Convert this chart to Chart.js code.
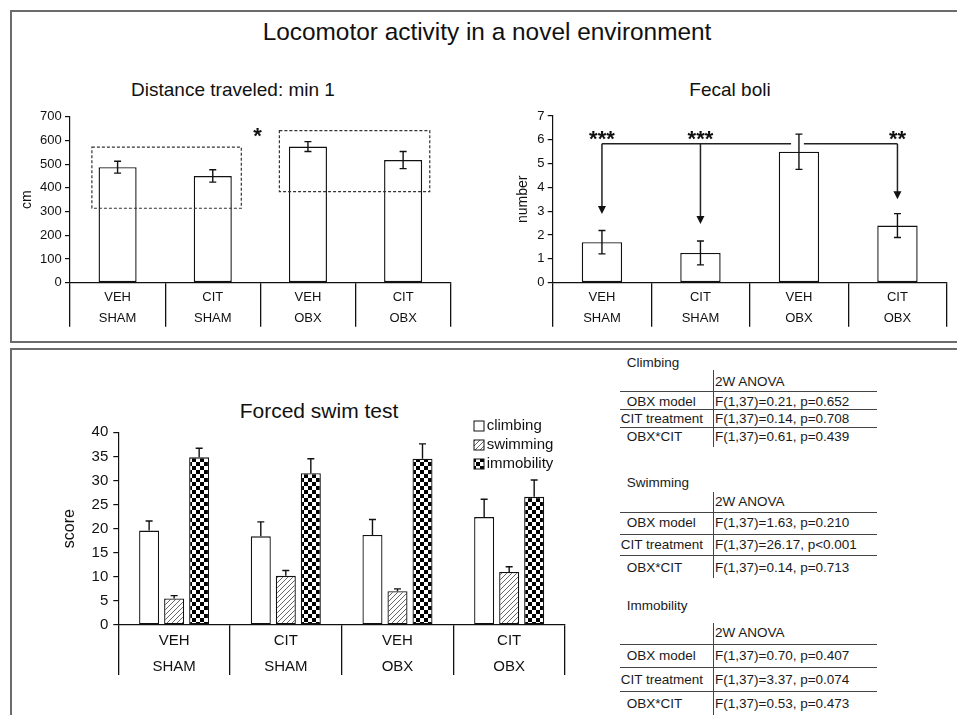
<!DOCTYPE html>
<html>
<head>
<meta charset="utf-8">
<script src="https://cdn.jsdelivr.net/npm/chart.js@4.4.0/dist/chart.umd.min.js"></script>
<style>
  body { margin: 0; background: #fff; font-family: "Liberation Sans", Arial, sans-serif; color: #111; }
  #page { position: relative; width: 957px; height: 715px; overflow: hidden; background: #fff; }
  .frame { position: absolute; border: 2px solid #6b6b6b; border-right: none; }
  .lbl { position: absolute; transform: translate(-50%, -50%); white-space: nowrap; line-height: 1; }
  .txt { position: absolute; transform: translateY(-50%); white-space: nowrap; line-height: 1; font-size: 13.5px; color: #1a1a1a; }
  .hl { position: absolute; height: 0; border-top: 1.5px solid #444; }
  .vl { position: absolute; width: 0; border-left: 1.5px solid #444; }
  canvas { position: absolute; }
</style>
</head>
<body>
<div id="page">
  <div class="frame" style="left:10px; top:10px; width:960px; height:328.7px;"></div>
  <div class="frame" style="left:10px; top:348px; width:960px; height:400px; border-bottom:none;"></div>

  <div class="lbl" style="left:487px; top:32px; font-size:24.4px;">Locomotor activity in a novel environment</div>
  <div class="lbl" style="left:233px; top:89px; font-size:19px;">Distance traveled: min 1</div>
  <div class="lbl" style="left:730px; top:89px; font-size:19px;">Fecal boli</div>
  <div class="lbl" style="left:319px; top:410px; font-size:21px;">Forced swim test</div>

  <canvas id="distChart" width="448" height="236" style="left:12px; top:100px;"></canvas>
  <canvas id="fecalChart" width="467" height="236" style="left:490px; top:100px;"></canvas>
  <canvas id="swimChart" width="535" height="275" style="left:40px; top:410px;"></canvas>
</div>

<script>
// data
const categories = [['VEH', 'SHAM'], ['CIT', 'SHAM'], ['VEH', 'OBX'], ['CIT', 'OBX']];

const distanceMean = [487, 450, 574, 517];
const distanceSem = [25, 26, 21, 36];
const distanceTicks = [0, 100, 200, 300, 400, 500, 600, 700];

const fecalMean = [1.7, 1.25, 5.5, 2.4];
const fecalSem = [0.49, 0.5, 0.74, 0.5];
const fecalTicks = [0, 1, 2, 3, 4, 5, 6, 7];

const swimSeries = ['climbing', 'swimming', 'immobility'];
const climbingMean = [19.6, 18.4, 18.7, 22.4];
const climbingSem = [2.0, 3.0, 3.2, 3.7];
const swimmingMean = [5.5, 10.2, 7.0, 11.0];
const swimmingSem = [0.6, 1.1, 0.5, 1.1];
const immobilityMean = [34.8, 31.5, 34.5, 26.6];
const immobilitySem = [1.9, 3.0, 3.1, 3.5];
const swimTicks = [0, 5, 10, 15, 20, 25, 30, 35, 40];

const anovaRows = ['OBX model', 'CIT treatment', 'OBX*CIT'];
const climbingStats = ['F(1,37)=0.21, p=0.652', 'F(1,37)=0.14, p=0.708', 'F(1,37)=0.61, p=0.439'];
const swimmingStats = ['F(1,37)=1.63, p=0.210', 'F(1,37)=26.17, p<0.001', 'F(1,37)=0.14, p=0.713'];
const immobilityStats = ['F(1,37)=0.70, p=0.407', 'F(1,37)=3.37, p=0.074', 'F(1,37)=0.53, p=0.473'];

Chart.defaults.font.family = '"Liberation Sans", Arial, sans-serif';
Chart.defaults.color = '#111';
Chart.defaults.animation = false;

// fill patterns
function hatchPattern() {
  const c = document.createElement('canvas');
  c.width = 5; c.height = 5;
  const g = c.getContext('2d');
  g.fillStyle = '#fff'; g.fillRect(0, 0, 5, 5);
  g.strokeStyle = '#666'; g.lineWidth = 1;
  g.beginPath();
  g.moveTo(0, 5); g.lineTo(5, 0);
  g.moveTo(-1, 1); g.lineTo(1, -1);
  g.moveTo(4, 6); g.lineTo(6, 4);
  g.stroke();
  return g.createPattern(c, 'repeat');
}
function checkerPattern() {
  const c = document.createElement('canvas');
  c.width = 8; c.height = 8;
  const g = c.getContext('2d');
  g.fillStyle = '#fff'; g.fillRect(0, 0, 8, 8);
  g.fillStyle = '#000';
  g.fillRect(0, 0, 4, 4); g.fillRect(4, 4, 4, 4);
  return g.createPattern(c, 'repeat');
}

function yScale(ticks, title, width, titlePad, fontSize, tickPad) {
  return {
    min: ticks[0],
    max: ticks[ticks.length - 1],
    afterBuildTicks: s => { s.ticks = ticks.map(v => ({ value: v })); },
    afterFit: s => { s.width = width; },
    grid: { drawOnChartArea: false, color: '#111', tickLength: 5, lineWidth: 1.2 },
    border: { color: '#111', width: 1.2 },
    ticks: { font: { size: fontSize }, padding: tickPad, color: '#111' },
    title: { display: true, text: title, color: '#111', font: { size: fontSize + 1 }, padding: { top: titlePad, bottom: 0 } }
  };
}

function xScale(height, tickLen, pad, fontSize, lineHeight) {
  return {
    afterFit: s => { s.height = height; },
    grid: { offset: true, drawOnChartArea: false, color: '#111', tickLength: tickLen, lineWidth: 1.3 },
    border: { color: '#111', width: 1.3 },
    ticks: { font: { size: fontSize, lineHeight: lineHeight }, padding: pad, autoSkip: false, maxRotation: 0, color: '#111' }
  };
}

const errorBars = {
  id: 'errorBars',
  afterDatasetsDraw(chart, args, opts) {
    const ctx = chart.ctx;
    const y = chart.scales.y;
    chart.data.datasets.forEach((ds, i) => {
      chart.getDatasetMeta(i).data.forEach((bar, j) => {
        const v = ds.data[j], e = ds.errors[j];
        const top = y.getPixelForValue(v + e);
        const bottom = opts.upperOnly ? bar.y : y.getPixelForValue(v - e);
        ctx.save();
        ctx.strokeStyle = '#111';
        ctx.lineWidth = 1.4;
        ctx.beginPath();
        ctx.moveTo(bar.x, top); ctx.lineTo(bar.x, bottom);
        ctx.moveTo(bar.x - 3.5, top); ctx.lineTo(bar.x + 3.5, top);
        if (!opts.upperOnly) { ctx.moveTo(bar.x - 3.5, bottom); ctx.lineTo(bar.x + 3.5, bottom); }
        ctx.stroke();
        ctx.restore();
      });
    });
  }
};

// dashed group boxes and the star between them
const distanceMarks = {
  id: 'distanceMarks',
  afterDatasetsDraw(chart) {
    const { ctx, scales: { x, y } } = chart;
    ctx.save();
    ctx.strokeStyle = '#333';
    ctx.lineWidth = 1.2;
    ctx.setLineDash([3, 2]);
    [[-0.27, 1.30, 314, 572], [1.70, 3.28, 384, 641]].forEach(([a, b, lo, hi]) => {
      const x0 = x.getPixelForValue(a), x1 = x.getPixelForValue(b);
      const y0 = y.getPixelForValue(hi), y1 = y.getPixelForValue(lo);
      ctx.strokeRect(x0, y0, x1 - x0, y1 - y0);
    });
    ctx.setLineDash([]);
    ctx.fillStyle = '#111';
    ctx.font = 'bold 22px "Liberation Sans", Arial, sans-serif';
    ctx.textAlign = 'center';
    ctx.textBaseline = 'alphabetic';
    ctx.fillText('*', x.getPixelForValue(1.47), y.getPixelForValue(644) + 12.8);
    ctx.restore();
  }
};

// bracket with arrows and significance stars
const fecalMarks = {
  id: 'fecalMarks',
  afterDatasetsDraw(chart) {
    const { ctx, scales: { x, y } } = chart;
    const by = y.getPixelForValue(5.83);
    ctx.save();
    ctx.strokeStyle = '#222';
    ctx.fillStyle = '#111';
    ctx.lineWidth = 1.5;
    ctx.beginPath();
    ctx.moveTo(x.getPixelForValue(0), by); ctx.lineTo(x.getPixelForValue(1.92), by);
    ctx.moveTo(x.getPixelForValue(2.05), by); ctx.lineTo(x.getPixelForValue(3), by);
    ctx.stroke();
    [[0, 2.88], [1, 2.47], [3, 3.5]].forEach(([i, tip]) => {
      const px = x.getPixelForValue(i), ty = y.getPixelForValue(tip);
      ctx.beginPath();
      ctx.moveTo(px, by); ctx.lineTo(px, ty - 6);
      ctx.stroke();
      ctx.beginPath();
      ctx.moveTo(px - 4, ty - 8); ctx.lineTo(px + 4, ty - 8); ctx.lineTo(px, ty);
      ctx.closePath();
      ctx.fill();
    });
    ctx.font = 'bold 22px "Liberation Sans", Arial, sans-serif';
    ctx.textAlign = 'center';
    ctx.textBaseline = 'alphabetic';
    [[0, '***'], [1, '***'], [3, '**']].forEach(([i, s]) => {
      ctx.fillText(s, x.getPixelForValue(i), y.getPixelForValue(6.27) + 12.8);
    });
    ctx.restore();
  }
};

const swimLegend = {
  id: 'swimLegend',
  afterDraw(chart) {
    const { ctx, chartArea } = chart;
    const left = chartArea.right - 91;
    ctx.save();
    ctx.font = '15px "Liberation Sans", Arial, sans-serif';
    ctx.textBaseline = 'middle';
    chart.data.datasets.forEach((ds, i) => {
      const cy = chartArea.top - 6.3 + i * 19;
      ctx.fillStyle = ds.backgroundColor;
      ctx.fillRect(left, cy - 5, 10, 10);
      ctx.strokeStyle = '#111';
      ctx.lineWidth = 1;
      ctx.strokeRect(left, cy - 5, 10, 10);
      ctx.fillStyle = '#111';
      ctx.fillText(ds.label, left + 12.7, cy);
    });
    ctx.restore();
  }
};

const barStyle = { backgroundColor: '#fff', borderColor: '#111', borderWidth: 1.4, borderSkipped: false };

new Chart(document.getElementById('distChart'), {
  type: 'bar',
  data: {
    labels: categories,
    datasets: [Object.assign({ data: distanceMean, errors: distanceSem, barPercentage: 0.4, categoryPercentage: 1 }, barStyle)]
  },
  options: {
    responsive: false,
    layout: { padding: { top: 16.7, right: 9.3, left: 0, bottom: 0 } },
    plugins: { legend: { display: false }, tooltip: { enabled: false }, errorBars: { upperOnly: false } },
    scales: { x: xScale(53.3, 44, -39.15, 13, 1.56), y: yScale(distanceTicks, 'cm', 58, 6.6, 13, 3.3) }
  },
  plugins: [errorBars, distanceMarks]
});

new Chart(document.getElementById('fecalChart'), {
  type: 'bar',
  data: {
    labels: categories,
    datasets: [Object.assign({ data: fecalMean, errors: fecalSem, barPercentage: 0.41, categoryPercentage: 1 }, barStyle)]
  },
  options: {
    responsive: false,
    layout: { padding: { top: 16, right: 10.3, left: 0, bottom: 0 } },
    plugins: { legend: { display: false }, tooltip: { enabled: false }, errorBars: { upperOnly: false } },
    scales: { x: xScale(53.3, 44, -39.15, 13, 1.56), y: yScale(fecalTicks, 'number', 62.7, 24.3, 13, 3.3) }
  },
  plugins: [errorBars, fecalMarks]
});

const swimFills = ['#fff', hatchPattern(), checkerPattern()];
const swimMeans = [climbingMean, swimmingMean, immobilityMean];
const swimSems = [climbingSem, swimmingSem, immobilitySem];

new Chart(document.getElementById('swimChart'), {
  type: 'bar',
  data: {
    labels: categories,
    datasets: swimSeries.map((name, i) => ({
      label: name,
      data: swimMeans[i],
      errors: swimSems[i],
      backgroundColor: swimFills[i],
      borderColor: '#111',
      borderWidth: 1.3,
      borderSkipped: false,
      barPercentage: 0.8,
      categoryPercentage: 0.672
    }))
  },
  options: {
    responsive: false,
    layout: { padding: { top: 22.3, right: 10, left: 0, bottom: 0 } },
    plugins: { legend: { display: false }, tooltip: { enabled: false }, errorBars: { upperOnly: true } },
    scales: { x: xScale(60, 50, -47.3, 15, 1.733), y: yScale(swimTicks, 'score', 78.3, 20, 15, 5) }
  },
  plugins: [errorBars, swimLegend]
});

// ANOVA tables
const page = document.getElementById('page');
function add(cls, style, text) {
  const d = document.createElement('div');
  d.className = cls;
  Object.assign(d.style, style);
  if (text) d.textContent = text;
  page.appendChild(d);
}
function statTable(title, stats, g) {
  add('txt', { left: '626.7px', top: g.title + 'px' }, title);
  add('vl', { left: '713px', top: g.vTop + 'px', height: (g.vBottom - g.vTop) + 'px' });
  add('txt', { left: '715px', top: g.header + 'px' }, '2W ANOVA');
  g.lines.forEach(ly => add('hl', { left: '620px', top: ly + 'px', width: '257px' }));
  anovaRows.forEach((r, i) => {
    add('txt', { left: (r === 'CIT treatment' ? 620.7 : 626.7) + 'px', top: g.rows[i] + 'px' }, r);
    add('txt', { left: '715px', top: g.rows[i] + 'px' }, stats[i]);
  });
}
statTable('Climbing', climbingStats, { title: 362.7, vTop: 370, vBottom: 446.7, header: 381.7, lines: [391, 409.3, 427], rows: [401.7, 419, 436.7] });
statTable('Swimming', swimmingStats, { title: 482.7, vTop: 491.7, vBottom: 578.3, header: 501.7, lines: [512, 533.6, 555.3], rows: [522.7, 544.7, 568.3] });
statTable('Immobility', immobilityStats, { title: 606, vTop: 623.3, vBottom: 716, header: 633.3, lines: [644.3, 667.3, 691.3], rows: [656, 680, 704] });
</script>
</body>
</html>
